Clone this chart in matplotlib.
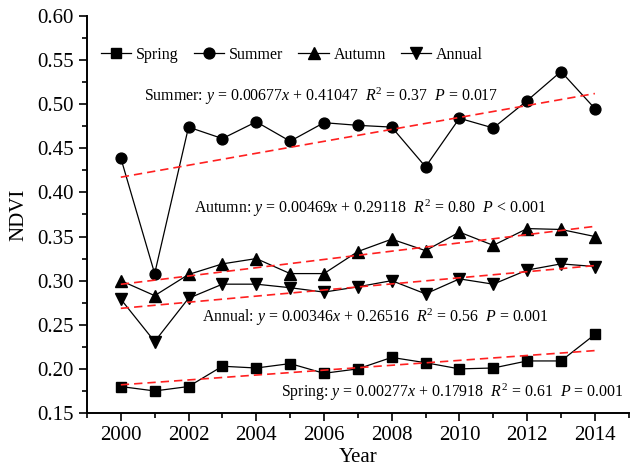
import matplotlib
matplotlib.use("Agg")
import matplotlib.pyplot as plt
import numpy as np

plt.rcParams['font.family'] = ['Liberation Serif', 'DejaVu Serif']
plt.rcParams['mathtext.fontset'] = 'custom'
plt.rcParams['mathtext.rm'] = 'Liberation Serif'
plt.rcParams['mathtext.it'] = 'Liberation Serif:italic'

years = list(range(2000, 2015))
spring = [0.180, 0.175, 0.180, 0.203, 0.201, 0.206, 0.195, 0.200, 0.213, 0.207, 0.200, 0.201, 0.209, 0.209, 0.239]
summer = [0.439, 0.308, 0.474, 0.461, 0.480, 0.458, 0.479, 0.476, 0.474, 0.429, 0.484, 0.473, 0.504, 0.537, 0.495]
autumn = [0.300, 0.283, 0.307, 0.319, 0.325, 0.308, 0.308, 0.333, 0.347, 0.334, 0.355, 0.340, 0.359, 0.358, 0.350]
annual = [0.279, 0.231, 0.280, 0.296, 0.296, 0.292, 0.287, 0.293, 0.300, 0.285, 0.302, 0.296, 0.312, 0.319, 0.316]

# linear trends: NDVI = slope * t + intercept, t = 1..15
trends = {
    'Spring': (0.00277, 0.17918, 0.61, '= 0.001'),
    'Summer': (0.00677, 0.41047, 0.37, '= 0.017'),
    'Autumn': (0.00469, 0.29118, 0.80, '< 0.001'),
    'Annual': (0.00346, 0.26516, 0.56, '= 0.001'),
}

fig = plt.figure(figsize=(6.3, 4.68), dpi=100)
ax = fig.add_axes([0.138, 0.1175, 0.86, 0.8485])

series = [('Spring', spring, 's', 7.0), ('Summer', summer, 'o', 7.8),
          ('Autumn', autumn, '^', 8.2), ('Annual', annual, 'v', 8.2)]
t = np.arange(1, len(years) + 1)
for name, vals, mk, ms in series:
    ax.plot(years, vals, color='black', lw=0.9, marker=mk, ms=ms,
            mfc='black', mec='black', label=name)
    a, b, _, _ = trends[name]
    ax.plot(years, a * t + b, color='#ff2020', lw=1.2, ls=(0, (5, 3)))

label_pos = {
    'Summer': (2000.68, 0.509),
    'Autumn': (2002.17, 0.382),
    'Annual': (2002.41, 0.258),
    'Spring': (2004.74, 0.173),
}
for name, (x, y) in label_pos.items():
    a, b, r2, p = trends[name]
    txt = (f"{name}: $y$ = {a:.5f}$x$ + {b:.5f}  $R^2$ = {r2:.2f}  $P$ {p}")
    ax.text(x, y, txt, fontsize=11.4, ha='left', va='center')

ax.set_xlim(1999, 2015)
ax.set_ylim(0.15, 0.60)
ax.set_xticks(range(2000, 2015, 2))
ax.set_xticks(range(1999, 2016), minor=True)
ax.set_yticks(np.arange(0.15, 0.601, 0.05))
ax.set_yticks(np.arange(0.15, 0.601, 0.025), minor=True)
ax.yaxis.set_major_formatter(matplotlib.ticker.FormatStrFormatter('%.2f'))
ax.tick_params(which='both', direction='out', labelsize=15, width=1.2)
ax.tick_params(which='major', length=6)
ax.tick_params(which='minor', length=3.5)
for s in ['top', 'right']:
    ax.spines[s].set_visible(False)
for s in ['left', 'bottom']:
    ax.spines[s].set_linewidth(1.4)

ax.set_xlabel('Year', fontsize=15, labelpad=2)
ax.set_ylabel('NDVI', fontsize=15, labelpad=6)

ax.legend(loc='upper left', bbox_to_anchor=(0.005, 0.95), ncol=4, frameon=False,
          fontsize=11.5, handlelength=1.9, handletextpad=0.3, columnspacing=0.95,
          borderaxespad=0.3)

fig.savefig('out.png', dpi=100)
